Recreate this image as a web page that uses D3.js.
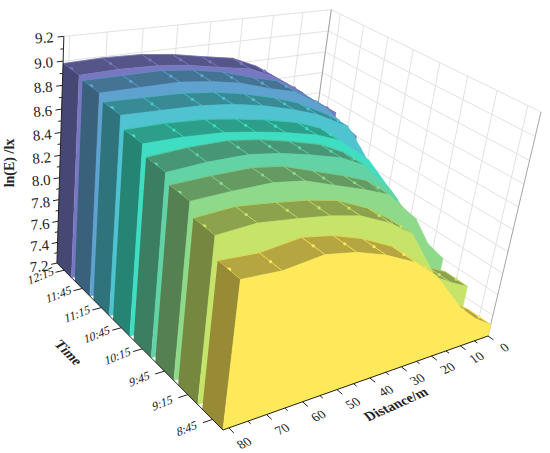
<!DOCTYPE html>
<html>
<head>
<meta charset="utf-8">
<script src="https://cdn.jsdelivr.net/npm/d3@7"></script>
<style>
  html, body { margin: 0; padding: 0; background: #fff; }
  text { font-family: "Liberation Serif", serif; fill: #222; }
</style>
</head>
<body>
<div id="chart"></div>
<script>
// values, distance in m, heights are ln(E)/lx
var distances = [0, 7, 13, 24, 32, 42, 51, 60, 71, 81.5];
var distanceTicks = [0, 10, 20, 30, 40, 50, 60, 70, 80];
var times = ['12:15', '11:45', '11:15', '10:45', '10:15', '9:45', '9:15', '8:45'];
var heightTicks = [7.2, 7.4, 7.6, 7.8, 8.0, 8.2, 8.4, 8.6, 8.8, 9.0, 9.2];

var h1215 = [8.30, 8.42, 8.55, 8.75, 8.85, 8.90, 8.95, 8.98, 8.99, 8.98];
var h1145 = [8.20, 8.38, 8.54, 8.73, 8.79, 8.88, 8.93, 8.96, 8.96, 8.96];
var h1115 = [7.95, 8.25, 8.49, 8.65, 8.73, 8.81, 8.86, 8.89, 8.90, 8.91];
var h1045 = [7.86, 8.10, 8.31, 8.55, 8.64, 8.71, 8.76, 8.80, 8.82, 8.82];
var h1015 = [7.72, 7.95, 8.17, 8.47, 8.58, 8.66, 8.72, 8.76, 8.76, 8.74];
var h945 = [7.60, 7.80, 8.07, 8.36, 8.45, 8.55, 8.64, 8.68, 8.68, 8.67];
var h915 = [7.50, 7.60, 7.70, 8.17, 8.32, 8.45, 8.51, 8.55, 8.59, 8.57];
var h845 = [7.31, 7.44, 7.59, 7.97, 8.15, 8.29, 8.38, 8.43, 8.39, 8.41];
var series = [h1215, h1145, h1115, h1045, h1015, h945, h915, h845];

var wallColors = ['#7777c2', '#5fa2cf', '#4fc3d0', '#3fdec2', '#63d3a5', '#8ed98a', '#c6e46a', '#fee95b'];

var width = 550, height = 453;

// data -> unit cube
var xScale = d3.scaleLinear().domain([0, 81.5]).range([0, 1]);
var yScale = d3.scaleBand().domain(times).range([1, 0]).paddingInner(0.18).paddingOuter(0);
var zScale = d3.scaleLinear().domain([7.2, 9.2]).range([0, 1]);

// unit cube -> screen, perspective camera fitted to the corners of the box
var camera = [
  [-301.8, -128.1, 0.924, 488],
  [23.09, -90.66, -234.8, 336],
  [-0.1649, 0.1854, -0.09626, 1]
];

function project(x, y, z) {
  var w = camera[2][0] * x + camera[2][1] * y + camera[2][2] * z + camera[2][3];
  return [
    (camera[0][0] * x + camera[0][1] * y + camera[0][2] * z + camera[0][3]) / w,
    (camera[1][0] * x + camera[1][1] * y + camera[1][2] * z + camera[1][3]) / w
  ];
}

var line = d3.line();
function closed(pts) {
  return line(pts) + 'Z';
}

var svg = d3.select('#chart').append('svg')
  .attr('width', width)
  .attr('height', height)
  .style('display', 'block');

// walls of the box with their grid
var grid = svg.append('g').attr('fill', 'none').attr('stroke', '#e2e2e2').attr('stroke-width', 1);

function segment(parent, a, b) {
  return parent.append('path').attr('d', line([a, b]));
}

distanceTicks.forEach(function(d) {
  segment(grid, project(xScale(d), 1, 0), project(xScale(d), 1, 1));
});
times.forEach(function(t) {
  var y = yScale(t) + yScale.bandwidth() / 2;
  segment(grid, project(0, y, 0), project(0, y, 1));
});
heightTicks.forEach(function(v) {
  var z = zScale(v);
  segment(grid, project(1, 1, z), project(0, 1, z));
  segment(grid, project(0, 1, z), project(0, 0, z));
});
segment(svg, project(0, 1, 0), project(0, 1, 1)).attr('stroke', '#a5a5a5');
segment(svg, project(0, 0, 0), project(0, 0, 1)).attr('stroke', '#a5a5a5');

// back to front, so each wall paints over the one behind it
times.forEach(function(t, k) {
  var y0 = yScale(t), y1 = y0 + yScale.bandwidth();
  var heights = series[k];
  var base = d3.color(wallColors[k]);
  var roofColor = base.darker(0.95).formatHex();
  var endColor = base.darker(1.45).formatHex();
  var g = svg.append('g');

  var front = [], back = [];
  distances.forEach(function(d, i) {
    front.push(project(xScale(d), y0, zScale(heights[i])));
    back.push(project(xScale(d), y1, zScale(heights[i])));
  });

  for (var i = 0; i < distances.length - 1; i++) {
    var quad = [front[i], front[i + 1], back[i + 1], back[i]];
    // roof pieces steep enough to face away from the camera are skipped
    if (d3.polygonArea(quad) < 0) {
      g.append('path').attr('d', closed(quad)).attr('fill', roofColor).attr('stroke', roofColor).attr('stroke-width', 0.5);
    }
  }

  // ribs across the roof, the back edge and the markers
  g.append('path').attr('d', line(back)).attr('fill', 'none').attr('stroke', wallColors[k]).attr('stroke-width', 0.6);
  distances.forEach(function(d, i) {
    segment(g, front[i], back[i]).attr('stroke', wallColors[k]).attr('stroke-width', 0.8);
    var mid = project(xScale(d), (y0 + y1) / 2, zScale(heights[i]));
    g.append('circle')
      .attr('cx', mid[0])
      .attr('cy', mid[1])
      .attr('r', i == distances.length - 1 ? 2.4 : 1.6)
      .attr('fill', wallColors[k]);
  });

  // end face at the far distance
  var last = distances.length - 1;
  var xEnd = xScale(distances[last]), zEnd = zScale(heights[last]);
  g.append('path')
    .attr('d', closed([project(xEnd, y1, 0), project(xEnd, y0, 0), project(xEnd, y0, zEnd), project(xEnd, y1, zEnd)]))
    .attr('fill', endColor);

  // lit front face
  var outline = front.slice();
  outline.push(project(xEnd, y0, 0), project(0, y0, 0));
  g.append('path').attr('d', closed(outline)).attr('fill', wallColors[k]).attr('stroke', wallColors[k]).attr('stroke-width', 0.5);
});

// axes
var axes = svg.append('g').attr('fill', 'none').attr('stroke', '#222').attr('stroke-width', 1);
var labels = svg.append('g').attr('font-size', 14);

segment(axes, project(1, 1, 0), project(1, 1, 1));
segment(axes, project(1, 1, 0), project(1, 0, 0));
segment(axes, project(1, 0, 0), project(0, 0, 0));

heightTicks.forEach(function(v, i) {
  var z = zScale(v);
  segment(axes, project(1, 1, z), project(1.02, 1, z));
  if (i < heightTicks.length - 1) {
    var minor = zScale(v + 0.1);
    segment(axes, project(1, 1, minor), project(1.01, 1, minor));
  }
  var p = project(1.06, 1, z);
  labels.append('text')
    .attr('transform', 'translate(' + p[0] + ',' + (p[1] + 4.5) + ') rotate(-5)')
    .attr('text-anchor', 'middle')
    .attr('font-size', 15)
    .text(v.toFixed(1));
});

times.forEach(function(t) {
  var y = yScale(t) + yScale.bandwidth() / 2;
  segment(axes, project(1, y, 0), project(1.03, y, 0));
  var p = project(1.08, y, 0);
  labels.append('text')
    .attr('transform', 'translate(' + p[0] + ',' + p[1] + ') rotate(-22) skewX(-15)')
    .attr('text-anchor', 'middle')
    .attr('dy', 4)
    .attr('font-size', 12)
    .text(t);
});

distanceTicks.forEach(function(d, i) {
  var x = xScale(d);
  segment(axes, project(x, 0, 0), project(x, -0.025, 0));
  if (i < distanceTicks.length - 1) {
    var minor = xScale(d + 5);
    segment(axes, project(minor, 0, 0), project(minor, -0.014, 0));
  }
  var p = project(x, -0.075, 0);
  labels.append('text')
    .attr('transform', 'translate(' + p[0] + ',' + p[1] + ') rotate(-24) skewX(15)')
    .attr('text-anchor', 'middle')
    .attr('dy', 4)
    .attr('font-size', 13)
    .text(d);
});

function title(p, transform, text) {
  labels.append('text')
    .attr('transform', 'translate(' + p[0] + ',' + p[1] + ') ' + transform)
    .attr('text-anchor', 'middle')
    .attr('font-weight', 'bold')
    .attr('font-size', 14)
    .text(text);
}
title(project(1.15, 1, 0.5), 'rotate(-90)', 'ln(E) /lx');
title(project(1.21, 0.51, 0), 'rotate(45) skewX(-15)', 'Time');
title(project(0.51, -0.155, 0), 'rotate(-24) skewX(15)', 'Distance/m');
</script>
</body>
</html>
